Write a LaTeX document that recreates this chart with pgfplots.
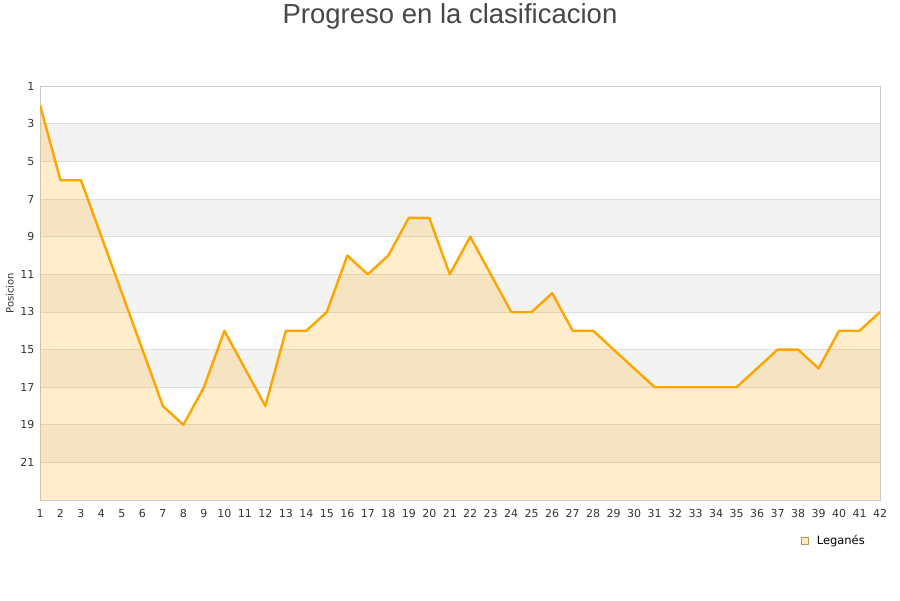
\documentclass[border=0pt]{standalone}
\usepackage{pgfplots}
\pgfplotsset{compat=1.18}
\usepackage{pgfplotstable}
\usepgfplotslibrary{fillbetween}
\usepackage{fontspec}
\setmainfont{DejaVu Sans}
\newfontfamily\titlefont{Liberation Sans}
\definecolor{lineor}{HTML}{FFA500}
\definecolor{bandgray}{HTML}{F3F3F3}
\definecolor{gridgray}{HTML}{DDDDDD}
\definecolor{txt}{HTML}{333333}
\pgfplotstableread{
x y
1 2
2 6
3 6
4 9
5 12
6 15
7 18
8 19
9 17
10 14
11 16
12 18
13 14
14 14
15 13
16 10
17 11
18 10
19 8
20 8
21 11
22 9
23 11
24 13
25 13
26 12
27 14
28 14
29 15
30 16
31 17
32 17
33 17
34 17
35 17
36 16
37 15
38 15
39 16
40 14
41 14
42 13
}\datatable
\begin{document}
\begin{tikzpicture}[x=1pt,y=1pt]
\begin{axis}[
  set layers,
  scale only axis,
  width=840pt, height=414pt,
  xmin=1, xmax=42, ymin=1, ymax=23,
  y dir=reverse,
  xtick={1,...,42},
  ytick={1,3,...,21},
  ymajorgrids,
  grid style={gridgray, line width=0.8pt},
  axis line style={draw=gridgray!80!gray, line width=0.8pt},
  major tick length=0pt,
  tick label style={font=\fontsize{11}{13}\selectfont, text=txt},
  /pgf/number format/assume math mode=true,
  ylabel={Posicion},
  ylabel style={font=\fontsize{10}{12}\selectfont, text=txt, at={(axis description cs:-0.0357,0.5)}, anchor=center},
  xticklabel style={yshift=-6pt},
  yticklabel style={xshift=-2pt},
  legend style={draw=none, fill=none, at={(axis description cs:1,0)}, anchor=north east, xshift=-13pt, yshift=-33pt, font=\fontsize{11.5}{13}\selectfont, inner sep=0pt, cells={anchor=west}},
  legend image code/.code={\draw[fill=lineor!25, draw=lineor!50!black!60, line width=0.6pt] (0pt,-3.5pt) rectangle (7pt,3.5pt);},
  legend cell align=left,
]
\addplot[on layer=axis background, fill=bandgray, draw=none, forget plot] coordinates {(1,3) (42,3) (42,5) (1,5)} -- cycle;
\addplot[on layer=axis background, fill=bandgray, draw=none, forget plot] coordinates {(1,7) (42,7) (42,9) (1,9)} -- cycle;
\addplot[on layer=axis background, fill=bandgray, draw=none, forget plot] coordinates {(1,11) (42,11) (42,13) (1,13)} -- cycle;
\addplot[on layer=axis background, fill=bandgray, draw=none, forget plot] coordinates {(1,15) (42,15) (42,17) (1,17)} -- cycle;
\addplot[on layer=axis background, fill=bandgray, draw=none, forget plot] coordinates {(1,19) (42,19) (42,21) (1,21)} -- cycle;
\addplot[name path=bottom, draw=none, forget plot] coordinates {(1,23) (42,23)};
\addplot[name path=serie, draw=none, forget plot] table[x=x,y=y] {\datatable};
\addplot[fill=lineor, fill opacity=0.2, draw=none, forget plot] fill between[of=serie and bottom];
\addplot[lineor, line width=2.4pt, line join=round] table[x=x,y=y] {\datatable};
\addlegendentry{\hspace{6pt}Leganés}
\end{axis}
\node[font=\titlefont\fontsize{27.5}{32}\selectfont, text=txt!90!white] at (410pt,484pt) {Progreso en la clasificacion};
\path (-40pt,-100pt) rectangle (860pt,500pt);
\end{tikzpicture}
\end{document}
